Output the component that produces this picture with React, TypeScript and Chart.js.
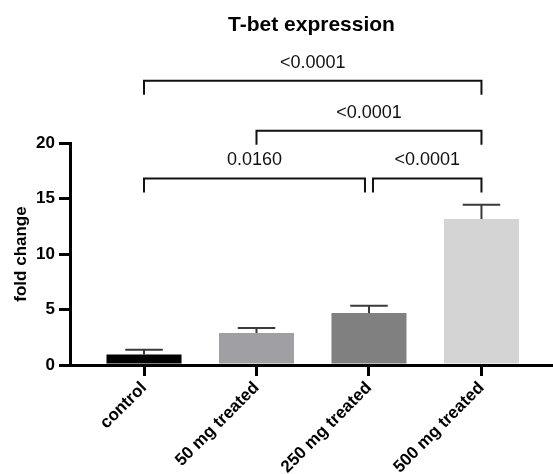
import { useEffect, useRef } from "react";
import { Chart, registerables } from "chart.js";

Chart.register(...registerables);

const categories = ["control", "50 mg treated", "250 mg treated", "500 mg treated"];
const means = [0.95, 2.88, 4.68, 13.15];
const errors = [0.43, 0.45, 0.66, 1.29];
const barColors = ["#000000", "#a09fa4", "#808080", "#d4d4d4"];
const yTicks = [0, 5, 10, 15, 20];
const comparisonFrom = [0, 2, 1, 0];
const comparisonTo = [2, 3, 3, 3];
const comparisonLevels = [16.8, 16.8, 21.1, 25.6];
const pValues = ["0.0160", "<0.0001", "<0.0001", "<0.0001"];
const chartTitle = "T-bet expression";
const yTitle = "fold change";

const FONT = "'Liberation Sans', Arial, Helvetica, sans-serif";

const annotPlugin = {
  id: "annot",
  afterDatasetsDraw(chart: any) {
    const { ctx, chartArea, scales } = chart;
    const x = scales.x;
    const y = scales.y;
    const meta = chart.getDatasetMeta(0);
    ctx.save();
    // error bars
    ctx.strokeStyle = "#3a3a3a";
    ctx.lineWidth = 2;
    meta.data.forEach((bar: any, i: number) => {
      const cx = bar.x;
      const top = y.getPixelForValue(means[i]);
      const end = y.getPixelForValue(means[i] + errors[i]);
      const half = bar.width / 4;
      ctx.beginPath();
      ctx.moveTo(cx, top);
      ctx.lineTo(cx, end);
      ctx.moveTo(cx - half, end);
      ctx.lineTo(cx + half, end);
      ctx.stroke();
    });
    // significance brackets
    ctx.strokeStyle = "#111";
    ctx.lineWidth = 2;
    ctx.fillStyle = "#111";
    ctx.font = `18px ${FONT}`;
    ctx.textAlign = "center";
    ctx.textBaseline = "middle";
    comparisonLevels.forEach((lvl, k) => {
      const a = comparisonFrom[k];
      const b = comparisonTo[k];
      const shared = (cat: number) =>
        comparisonLevels.some(
          (l2, j) => j !== k && l2 === lvl && (comparisonFrom[j] === cat || comparisonTo[j] === cat)
        );
      let x1 = x.getPixelForValue(a);
      let x2 = x.getPixelForValue(b);
      if (shared(a)) x1 += 4;
      if (shared(b)) x2 -= 4;
      const yy = y.getPixelForValue(lvl);
      ctx.beginPath();
      ctx.moveTo(x1, yy + 14);
      ctx.lineTo(x1, yy);
      ctx.lineTo(x2, yy);
      ctx.lineTo(x2, yy + 14);
      ctx.stroke();
      ctx.fillText(pValues[k], (x1 + x2) / 2, yy - 18);
    });
    // title
    ctx.font = `bold 21px ${FONT}`;
    ctx.fillStyle = "#000";
    ctx.fillText(chartTitle, (chartArea.left + chartArea.right) / 2, 25);
    ctx.restore();
  },
};

export default function App() {
  const ref = useRef<HTMLCanvasElement | null>(null);
  useEffect(() => {
    document.body.style.margin = "0";
    if (!ref.current) return;
    const tickFont = { family: FONT, size: 17, weight: "bold" as const };
    const chart = new Chart(ref.current, {
      type: "bar",
      data: {
        datasets: [
          {
            data: means.map((v, i) => ({ x: i, y: v })),
            backgroundColor: barColors,
            borderWidth: 0,
            categoryPercentage: 1,
            barPercentage: 0.667,
          },
        ],
      },
      options: {
        responsive: false,
        animation: false,
        layout: { padding: { top: 143, right: 0, left: 0, bottom: 0 } },
        plugins: {
          legend: { display: false },
          tooltip: { enabled: false },
          title: { display: false },
        },
        scales: {
          x: {
            type: "linear",
            offset: false,
            min: -0.658,
            max: 3.636,
            afterBuildTicks: (axis: any) => {
              axis.ticks = categories.map((_, i) => ({ value: i }));
            },
            afterFit: (axis: any) => {
              axis.height = 109;
            },
            ticks: {
              autoSkip: false,
              minRotation: 45,
              maxRotation: 45,
              color: "#000",
              font: tickFont,
              padding: 2,
              callback: (v: any) => categories[v as number] ?? "",
            },
            grid: {
              display: true,
              offset: false,
              drawOnChartArea: false,
              drawTicks: true,
              tickLength: 11,
              color: "#000",
              lineWidth: 3,
            },
            border: { display: true, color: "#000", width: 3 },
          },
          y: {
            type: "linear",
            min: 0,
            max: 20,
            afterBuildTicks: (axis: any) => {
              axis.ticks = yTicks.map((v) => ({ value: v }));
            },
            afterFit: (axis: any) => {
              axis.width = 70;
            },
            ticks: { color: "#000", font: tickFont, padding: 4 },
            grid: {
              display: true,
              drawOnChartArea: false,
              drawTicks: true,
              tickLength: 11,
              color: "#000",
              lineWidth: 3,
            },
            border: { display: true, color: "#000", width: 3 },
            title: {
              display: true,
              text: yTitle,
              color: "#000",
              font: tickFont,
              padding: { top: 11, bottom: 0 },
            },
          },
        },
      } as any,
      plugins: [annotPlugin],
    });
    return () => chart.destroy();
  }, []);
  return (
    <div style={{ width: 553, height: 474 }}>
      <canvas ref={ref} width={553} height={474} style={{ display: "block" }} />
    </div>
  );
}
